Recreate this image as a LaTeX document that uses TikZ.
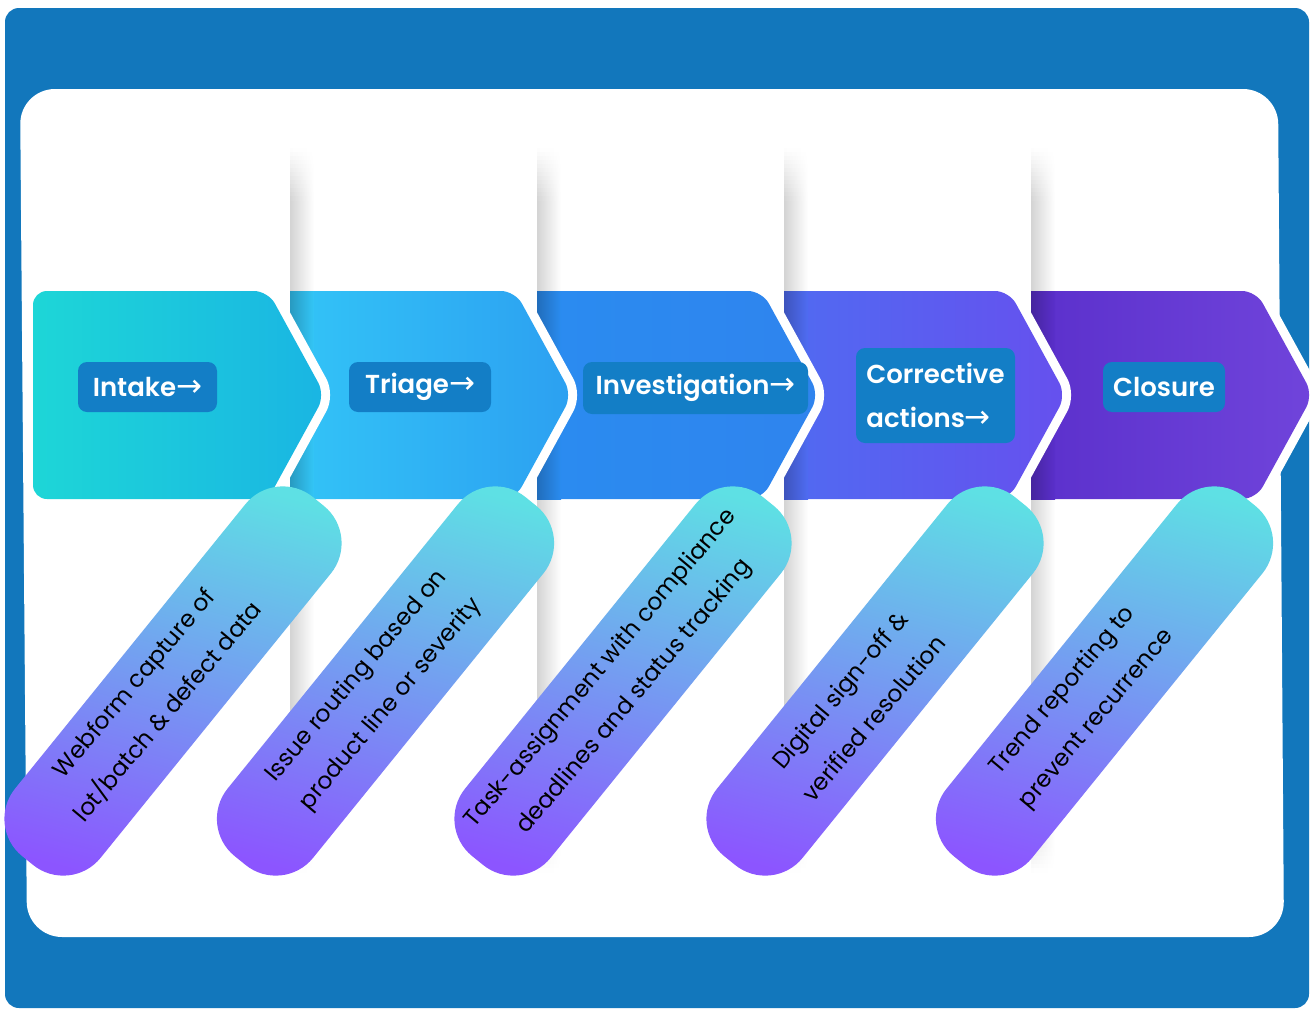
\documentclass[tikz,border=0pt]{standalone}
\usepackage{fontspec}
\setmainfont{Poppins}
\newfontfamily\headfont{Poppins SemiBold}
\newfontfamily\arrowfont{DejaVu Sans}
\definecolor{frameblue}{HTML}{1277BC}
\definecolor{labelblue}{HTML}{137EC6}
\definecolor{pillcyan}{HTML}{5EE0E4}
\definecolor{pillpurple}{HTML}{8C55FF}
\definecolor{chAa}{HTML}{1DD6D7}\definecolor{chAb}{HTML}{1AB5E3}
\definecolor{chBa}{HTML}{33C6F7}\definecolor{chBb}{HTML}{2CA0F1}
\definecolor{chCa}{HTML}{2A8CF0}\definecolor{chCb}{HTML}{2F84EE}
\definecolor{chDa}{HTML}{4F6CF2}\definecolor{chDb}{HTML}{6650EE}
\definecolor{chEa}{HTML}{5A2FCB}\definecolor{chEb}{HTML}{7044DB}
\newcommand{\myarr}{{\arrowfont\fontsize{31}{31}\selectfont →}}
\tikzset{
  lbl/.style={fill=labelblue, rounded corners=9, text=white, inner sep=0pt,
    font=\headfont\fontsize{26}{44}\selectfont},
  pill/.style={rotate=51, minimum width=462, minimum height=110, rounded corners=48,
    inner sep=0pt, top color=pillcyan, bottom color=pillpurple, shading angle=-15},
  pilltext/.style={rotate=50, align=center, inner sep=0pt, text=black,
    font=\fontsize{23.5}{44}\selectfont},
  chevout/.style={draw=white, line width=18, rounded corners=14}
}
\newcommand{\chevpath}[3]{(#1,291) -- (#2,291) -- (#3,395) -- (#2,499) -- (#1,499) -- cycle}
\newcommand{\chevron}[5]{%
  \begin{scope}
    \clip (#1,291) rectangle (1330,499);
    \path[chevout] \chevpath{#1-16}{#2}{#3};
    \shade[rounded corners=14, left color=#4, right color=#5] \chevpath{#1-16}{#2}{#3};
    \shade[left color=#4!78!black, right color=#4] (#1,291) rectangle (#1+24,499);
  \end{scope}}
\newcommand{\shadowstrip}[1]{%
  \shade[left color=black!17, right color=white] (#1,199.5) rectangle (#1+24,820.5);
  \foreach \i in {0,...,12}{%
    \pgfmathsetmacro\pcA{17*(\i+0.5)/13}%
    \pgfmathsetmacro\pcB{17*(12.5-\i)/13}%
    \shade[left color=black!\pcA, right color=white] (#1,148+4*\i) rectangle (#1+24,152.6+4*\i);
    \shade[left color=black!\pcB, right color=white] (#1,820+4*\i) rectangle (#1+24,824.6+4*\i);
  }}
\begin{document}
\begin{tikzpicture}[x=1pt, y=-1pt]
\useasboundingbox (0,0) rectangle (1310,1009);
\fill[white] (0,0) rectangle (1310,1009);
% frame
\fill[frameblue, rounded corners=14] (5,8) rectangle (1309,1008);
\fill[white, rounded corners=35] (20,89) -- (1278,89) -- (1284,937) -- (27,937) -- cycle;
% vertical shadows
\shadowstrip{290}
\shadowstrip{537}
\shadowstrip{784}
\shadowstrip{1031}
% chevrons, right to left
\chevron{1031}{1256}{1313}{chEa}{chEb}
\chevron{784}{1009}{1066}{chDa}{chDb}
\chevron{537}{762}{819}{chCa}{chCb}
\chevron{290}{515}{572}{chBa}{chBb}
\begin{scope}
  \clip (0,291) rectangle (1330,499);
  \path[chevout] \chevpath{33}{268}{325};
\end{scope}
\shade[rounded corners=14, left color=chAa, right color=chAb] \chevpath{33}{268}{325};
% labels
\node[lbl, minimum width=139, minimum height=50] (intake) at (147.5,387) {Intake\myarr};
\node[lbl, minimum width=142, minimum height=50] (triage) at (420,387) {Triage\myarr};
\node[lbl, minimum width=225, minimum height=52] (invest) at (695.5,388) {Investigation\myarr};
\node[lbl, minimum width=159, minimum height=95, align=left] (correct) at (935.5,395.5) {Corrective\\actions\myarr};
\node[lbl, minimum width=122, minimum height=50] (closure) at (1164,387) {Closure};
% pills
\node[pill] (p1) at (173,681) {};
\node[pill] (p2) at (385.5,681) {};
\node[pill] (p3) at (623,681) {};
\node[pill] (p4) at (875,681) {};
\node[pill] (p5) at (1104.5,681) {};
\node[pilltext] (t1) at (151.5,698) {Webform capture of\\lot/batch \& defect data};
\node[pilltext] (t2) at (374,690.5) {Issue routing based on\\product line or severity};
\node[pilltext] (t3) at (618,683) {Task-assignment with compliance\\deadlines and status tracking};
\node[pilltext] (t4) at (856.5,704) {Digital sign-off \&\\verified resolution};
\node[pilltext] (t5) at (1080,705) {Trend reporting to\\prevent recurrence};
\end{tikzpicture}
\end{document}
